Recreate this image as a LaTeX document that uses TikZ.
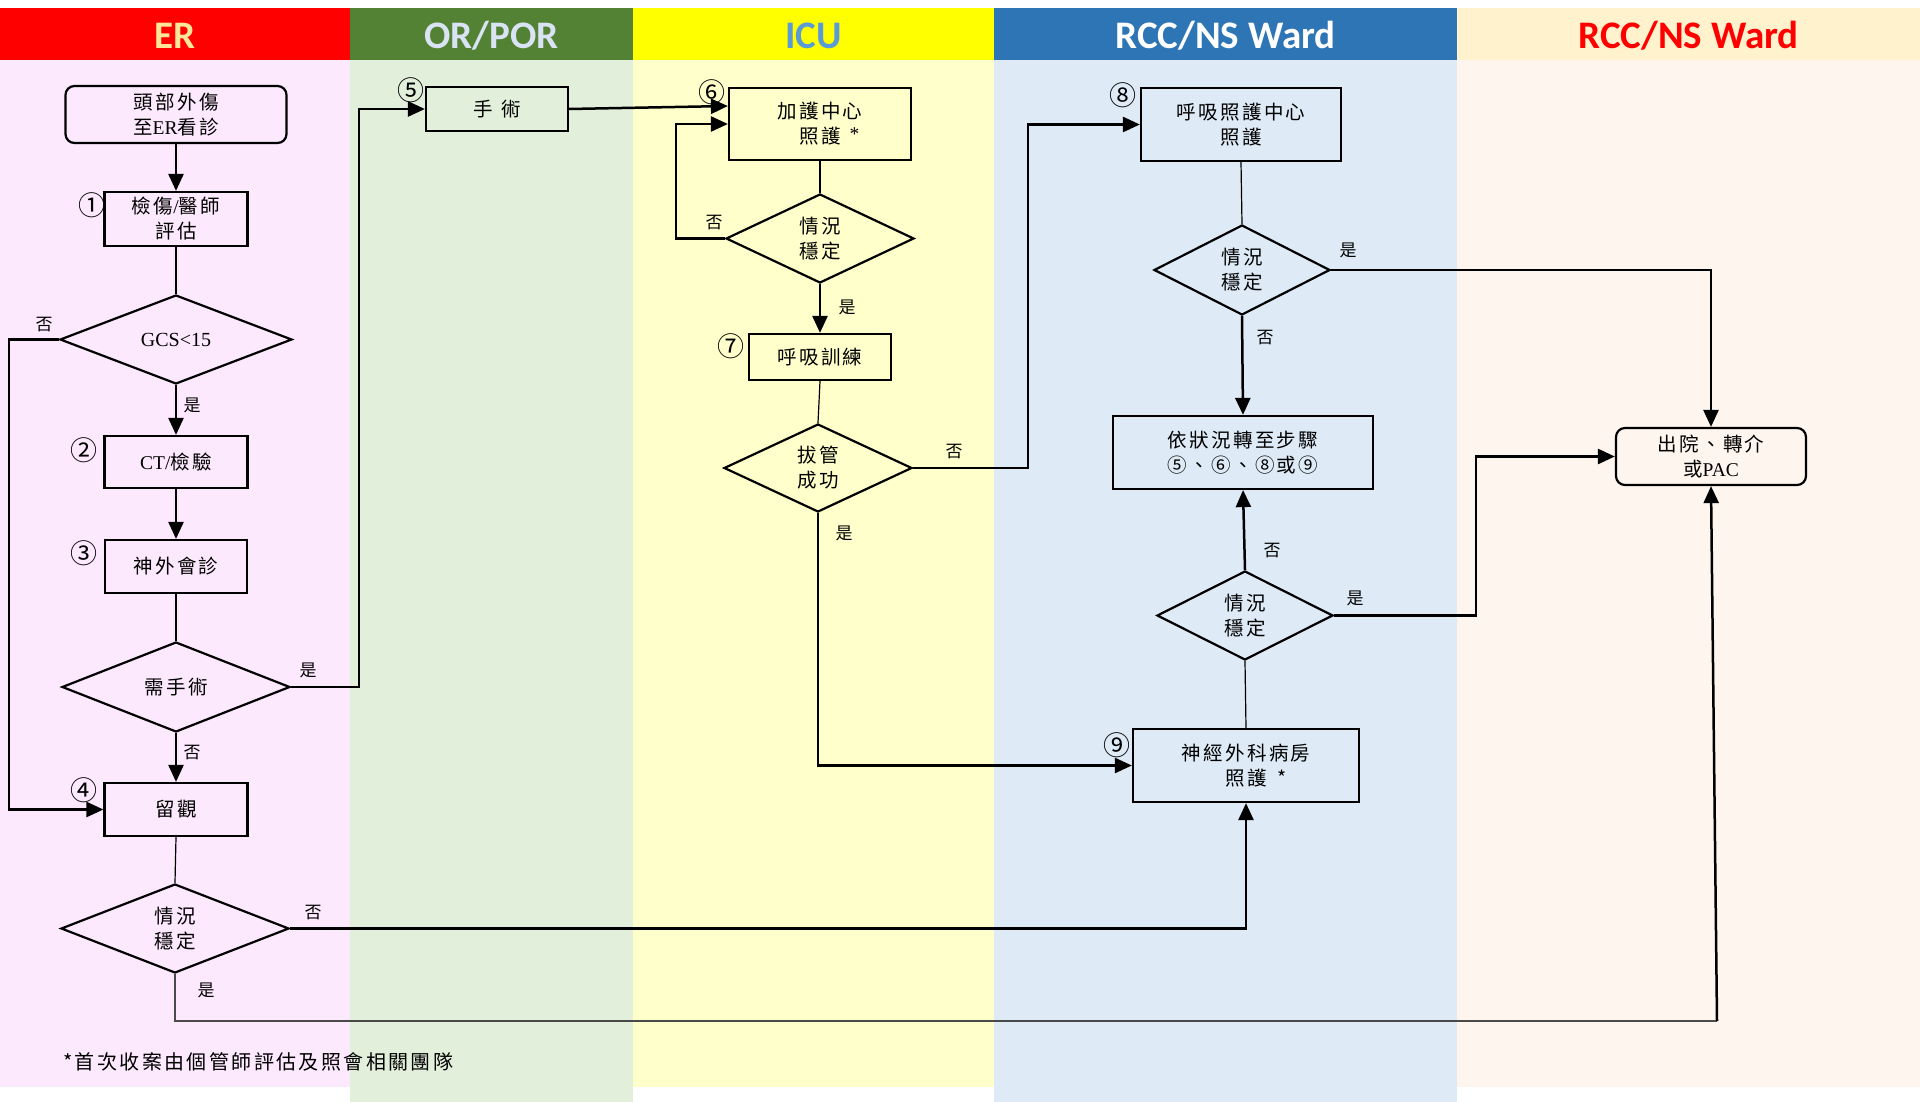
\documentclass[tikz,border=0pt]{standalone}
\usepackage{fontspec}
\setmainfont{Liberation Serif}
\newfontfamily\cjk[LetterSpace=12]{Noto Sans CJK TC}
\newfontfamily\cjkplain{Noto Sans CJK TC}
\newfontfamily\hdrfont{Carlito}
\usetikzlibrary{shapes.geometric,arrows.meta}

% lane colours
\definecolor{erhead}{HTML}{FF0000}
\definecolor{ertext}{HTML}{FFE699}
\definecolor{erbody}{HTML}{FDE9FD}
\definecolor{orhead}{HTML}{548235}
\definecolor{ortext}{HTML}{DAE3F3}
\definecolor{orbody}{HTML}{E2EFDA}
\definecolor{icuhead}{HTML}{FFFF00}
\definecolor{icutext}{HTML}{5B9BD5}
\definecolor{icubody}{HTML}{FFFFCC}
\definecolor{rcchead}{HTML}{2E75B6}
\definecolor{rcctext}{HTML}{FFFFFF}
\definecolor{rccbody}{HTML}{DEEBF7}
\definecolor{warhead}{HTML}{FFF2CC}
\definecolor{wartext}{HTML}{FF0000}
\definecolor{warbody}{HTML}{FEF5EE}
\definecolor{routegray}{HTML}{4A4A4A}

\tikzset{
  box/.style={draw, line width=2.2pt, rectangle, inner sep=0pt, align=center,
              font=\fontsize{19.5}{25}\selectfont\cjk},
  rbox/.style={box, rounded corners=9pt},
  dia/.style={draw, diamond, line width=2.2pt, inner sep=0pt, align=center,
              font=\fontsize{19.5}{25}\selectfont\cjk},
  arr/.style={-{Triangle[length=17pt,width=15pt]}, line width=2.5pt},
  thinln/.style={line width=1.2pt},
  grayln/.style={line width=2pt, draw=routegray},
  lab/.style={inner sep=0pt, font=\fontsize{17}{17}\selectfont\cjkplain},
  num/.style={inner sep=0pt, font=\fontsize{27}{27}\selectfont\cjkplain},
  hdr/.style={anchor=base, font=\hdrfont\bfseries\fontsize{39}{39}\selectfont},
}

\begin{document}
\begin{tikzpicture}[x=1pt,y=-1pt]
\useasboundingbox (0,0) rectangle (1920,1102);
\fill[white] (0,0) rectangle (1920,1102);

% swimlane bodies
\fill[erbody]  (0,60)    rectangle (350,1087);
\fill[orbody]  (350,60)  rectangle (633,1102);
\fill[icubody] (633,60)  rectangle (994,1087);
\fill[rccbody] (994,60)  rectangle (1457,1102);
\fill[warbody] (1457,60) rectangle (1920,1087);

% swimlane headers
\fill[erhead]  (0,8)    rectangle (350,60);
\fill[orhead]  (350,8)  rectangle (633,60);
\fill[icuhead] (633,8)  rectangle (994,60);
\fill[rcchead] (994,8)  rectangle (1457,60);
\fill[warhead] (1457,8) rectangle (1920,60);

\node[hdr, text=ertext]  (hER)  at (175,48.5)    {ER};
\node[hdr, text=ortext]  (hOR)  at (491.5,48.5)  {OR/POR};
\node[hdr, text=icutext] (hICU) at (813.5,48.5)  {ICU};
\node[hdr, text=rcctext] (hRCC) at (1225.5,48.5) {RCC/NS Ward};
\node[hdr, text=wartext] (hWAR) at (1688.5,48.5) {RCC/NS Ward};

% ER lane
\node[rbox, minimum width=221, minimum height=57] (start) at (176,114.5)
  {頭部外傷\\至{\rmfamily ER}看診};
\node[box, minimum width=143, minimum height=54] (n1) at (176,219)
  {檢傷{\rmfamily /}醫師\\評估};
\node[dia, minimum width=232, minimum height=89] (gcs) at (176,339.5)
  {\rmfamily\fontsize{20}{20}\selectfont GCS<15};
\node[box, minimum width=143, minimum height=52] (ct) at (176,462) {{\rmfamily CT/}檢驗};
\node[box, minimum width=142, minimum height=53] (neuro) at (176,566.5) {神外會診};
\node[dia, minimum width=228, minimum height=90] (surg) at (176,687) {需手術};
\node[box, minimum width=143, minimum height=53] (obs) at (176,809.5) {留觀};
\node[dia, minimum width=228, minimum height=89] (stab1) at (175,928.5) {情況\\穩定};

% OR lane
\node[box, minimum width=142, minimum height=44] (op) at (497,109) {手\hspace{8pt}術};

% ICU lane
\node[box, minimum width=182, minimum height=72] (icu) at (820,124)
  {加護中心\\照護\rlap{\hspace{9pt}\raisebox{3pt}{\rmfamily *}}};
\node[dia, minimum width=188, minimum height=89] (dicu) at (820,238.5) {情況\\穩定};
\node[box, minimum width=142, minimum height=46] (n7) at (820,357) {呼吸訓練};
\node[dia, minimum width=188, minimum height=88] (ext) at (818,468) {拔管\\成功};

% RCC/NS ward lane
\node[box, minimum width=200, minimum height=73] (n8) at (1241,124.5) {呼吸照護中心\\照護};
\node[dia, minimum width=176, minimum height=90] (d8) at (1242,270) {情況\\穩定};
\node[box, minimum width=260, minimum height=73] (step) at (1243,452.5)
  {依狀況轉至步驟\\⑤、⑥、⑧或⑨};
\node[dia, minimum width=176, minimum height=89] (d9) at (1245,615.5) {情況\\穩定};
\node[box, minimum width=226, minimum height=73] (n9) at (1246,765.5)
  {神經外科病房\\照護\rlap{\hspace{11pt}*}};

% discharge lane
\node[rbox, minimum width=190, minimum height=57] (out) at (1711,456.5)
  {出院、轉介\\或{\rmfamily PAC}};

% step numbers
\node[num] (c1) at (92,205)   {①};
\node[num] (c2) at (84,450)   {②};
\node[num] (c3) at (84,553)   {③};
\node[num] (c4) at (84,790)   {④};
\node[num] (c5) at (411,90)   {⑤};
\node[num] (c6) at (712,92)   {⑥};
\node[num] (c7) at (731,346)  {⑦};
\node[num] (c8) at (1123,95)  {⑧};
\node[num] (c9) at (1117,745) {⑨};

% connectors
\coordinate (bend) at (1717,1021);
\draw[arr] (start.south) -- (n1.north);
\draw[thinln] (n1.south) -- (gcs.north);
\draw[arr] (gcs.south) -- (ct.north);
\draw[arr] (gcs.west) -- ++(-50,0) |- (obs.west);
\draw[arr] (ct.south) -- (neuro.north);
\draw[thinln] (neuro.south) -- (surg.north);
\draw[arr] (surg.east) -- ++(68,0) |- (op.west);
\draw[arr] (surg.south) -- (obs.north);
\draw[thinln] (obs.south) -- (stab1.north);
\draw[arr] (stab1.east) -| (n9.south);
\draw[grayln] (stab1.south) |- (bend);
\draw[arr] (bend) -- (out.south);

\draw[arr] (op.east) -- ([yshift=18pt]icu.west);
\draw[thinln] (icu.south) -- (dicu.north);
\draw[arr] (dicu.west) -- ++(-49,0) |- (icu.west);
\draw[arr] (dicu.south) -- (n7.north);
\draw[thinln] (n7.south) -- (ext.north);
\draw[arr] (ext.east) -- ++(115,0) |- (n8.west);
\draw[arr] (ext.south) |- (n9.west);

\draw[thinln] (n8.south) -- (d8.north);
\draw[arr] (d8.east) -| (out.north);
\draw[arr] (d8.south) -- (step.north);
\draw[arr] (d9.north) -- (step.south);
\draw[arr] (d9.east) -- ++(142,0) |- (out.west);
\draw[thinln] (n9.north) -- (d9.south);

% branch labels
\node[lab] (l1)  at (44,325)   {否};
\node[lab] (l2)  at (192,405)  {是};
\node[lab] (l3)  at (308,670)  {是};
\node[lab] (l4)  at (192,753)  {否};
\node[lab] (l5)  at (313,913)  {否};
\node[lab] (l6)  at (206,990)  {是};
\node[lab] (l7)  at (714,223)  {否};
\node[lab] (l8)  at (847,307)  {是};
\node[lab] (l9)  at (954,452)  {否};
\node[lab] (l10) at (844,533)  {是};
\node[lab] (l11) at (1348,250) {是};
\node[lab] (l12) at (1265,338) {否};
\node[lab] (l13) at (1272,551) {否};
\node[lab] (l14) at (1355,598) {是};

% footnote
\node[anchor=west, inner sep=0pt, font=\fontsize{20}{20}\selectfont\cjk] (note) at (63,1062)
  {*首次收案由個管師評估及照會相關團隊};
\end{tikzpicture}
\end{document}
